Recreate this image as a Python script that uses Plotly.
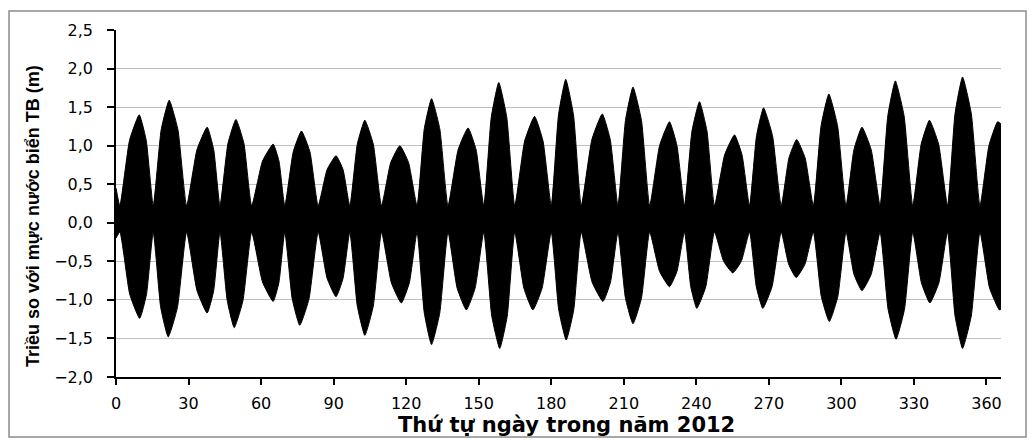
import plotly.graph_objects as go

# Upper envelope of the hourly tide (day of year, metres)
upper_days = [0, 1.6,
              5.6, 9.6, 12.5, 15.4,
              18.7, 22.0, 25.6, 29.2,
              33.5, 37.7, 40.4, 43.0,
              46.3, 49.6, 52.9, 56.1,
              60.6, 65.0, 67.4, 69.8,
              73.3, 76.7, 80.2, 83.6,
              87.3, 91.0, 93.9, 96.7,
              99.8, 102.9, 106.4, 109.8,
              113.6, 117.4, 121.0, 124.5,
              127.5, 130.5, 133.9, 137.3,
              141.5, 145.6, 148.9, 152.1,
              155.2, 158.3, 161.6, 164.9,
              169.0, 173.1, 176.6, 180.0,
              183.0, 186.0, 189.2, 192.4,
              196.8, 201.1, 204.4, 207.6,
              210.7, 213.8, 217.3, 220.7,
              224.8, 228.9, 232.0, 235.1,
              238.2, 241.3, 244.4, 247.5,
              251.7, 255.8, 258.9, 262.0,
              264.9, 267.8, 271.5, 275.1,
              278.3, 281.5, 285.0, 288.4,
              291.6, 294.8, 298.4, 301.9,
              305.2, 308.5, 312.3, 316.0,
              319.2, 322.3, 325.9, 329.5,
              333.0, 336.4, 340.2, 343.9,
              347.0, 350.1, 353.7, 357.3,
              361.0, 364.6, 366.0]
upper_vals = [0.45, 0.22,
              1.07, 1.40, 1.07, 0.22,
              1.21, 1.59, 1.21, 0.22,
              0.95, 1.24, 0.95, 0.22,
              1.03, 1.34, 1.03, 0.22,
              0.80, 1.02, 0.80, 0.22,
              0.92, 1.19, 0.92, 0.22,
              0.69, 0.87, 0.69, 0.22,
              1.02, 1.33, 1.02, 0.22,
              0.78, 1.00, 0.78, 0.22,
              1.22, 1.61, 1.22, 0.22,
              0.95, 1.23, 0.95, 0.22,
              1.37, 1.82, 1.37, 0.22,
              1.06, 1.38, 1.06, 0.22,
              1.40, 1.86, 1.40, 0.22,
              1.08, 1.41, 1.08, 0.22,
              1.33, 1.76, 1.33, 0.22,
              1.00, 1.31, 1.00, 0.22,
              1.19, 1.57, 1.19, 0.22,
              0.88, 1.14, 0.88, 0.22,
              1.13, 1.49, 1.13, 0.22,
              0.84, 1.08, 0.84, 0.22,
              1.26, 1.67, 1.26, 0.22,
              0.95, 1.24, 0.95, 0.22,
              1.39, 1.84, 1.39, 0.22,
              1.02, 1.33, 1.02, 0.22,
              1.42, 1.89, 1.42, 0.22,
              1.00, 1.31, 1.28]

# Lower envelope of the hourly tide (day of year, metres)
lower_days = [0, 1.6,
              5.7, 9.8, 12.6, 15.4,
              18.5, 21.6, 25.4, 29.2,
              33.5, 37.7, 40.4, 43.0,
              46.0, 48.9, 52.5, 56.1,
              60.6, 65.0, 67.4, 69.8,
              72.9, 76.0, 79.8, 83.6,
              87.3, 91.0, 93.9, 96.7,
              99.8, 102.9, 106.4, 109.8,
              113.9, 118.0, 121.3, 124.5,
              127.5, 130.5, 133.9, 137.3,
              141.1, 144.9, 148.5, 152.1,
              155.4, 158.7, 161.8, 164.9,
              168.7, 172.4, 176.2, 180.0,
              183.1, 186.2, 189.3, 192.4,
              196.9, 201.4, 204.5, 207.6,
              210.7, 213.8, 217.3, 220.7,
              224.8, 228.9, 232.0, 235.1,
              237.7, 240.2, 243.9, 247.5,
              251.3, 255.1, 258.6, 262.0,
              264.8, 267.5, 271.3, 275.1,
              278.2, 281.3, 284.9, 288.4,
              291.7, 295.0, 298.5, 301.9,
              305.2, 308.5, 312.3, 316.0,
              319.3, 322.6, 326.1, 329.5,
              333.1, 336.6, 340.3, 343.9,
              347.0, 350.1, 353.7, 357.3,
              361.3, 365.3, 366.0]
lower_vals = [-0.20, -0.12,
              -0.93, -1.24, -0.93, -0.12,
              -1.10, -1.48, -1.10, -0.12,
              -0.88, -1.17, -0.88, -0.12,
              -1.01, -1.36, -1.01, -0.12,
              -0.77, -1.02, -0.77, -0.12,
              -0.99, -1.33, -0.99, -0.12,
              -0.72, -0.96, -0.72, -0.12,
              -1.08, -1.46, -1.08, -0.12,
              -0.78, -1.04, -0.78, -0.12,
              -1.17, -1.58, -1.17, -0.12,
              -0.85, -1.13, -0.85, -0.12,
              -1.21, -1.63, -1.21, -0.12,
              -0.85, -1.13, -0.85, -0.12,
              -1.13, -1.52, -1.13, -0.12,
              -0.77, -1.02, -0.77, -0.12,
              -0.98, -1.31, -0.98, -0.12,
              -0.63, -0.83, -0.63, -0.12,
              -0.83, -1.11, -0.83, -0.12,
              -0.50, -0.65, -0.50, -0.12,
              -0.83, -1.11, -0.83, -0.12,
              -0.54, -0.71, -0.54, -0.12,
              -0.96, -1.28, -0.96, -0.12,
              -0.67, -0.88, -0.67, -0.12,
              -1.12, -1.51, -1.12, -0.12,
              -0.78, -1.04, -0.78, -0.12,
              -1.21, -1.63, -1.21, -0.12,
              -0.85, -1.13, -1.12]

x_ticks = [0, 30, 60, 90, 120, 150, 180, 210, 240, 270, 300, 330, 360]
y_ticks = [-2.0, -1.5, -1.0, -0.5, 0.0, 0.5, 1.0, 1.5, 2.0, 2.5]

x_title = "Thứ tự ngày trong năm 2012"
y_title = "Triều so với mực nước biển TB (m)"

poly_x = upper_days + lower_days[::-1]
poly_y = upper_vals + lower_vals[::-1]

# pixel layout helpers (plot area 116..1001 px horizontally, 30..377 px vertically)
W, H = 1032, 442
ML, MR, MT, MB = 93, 31, 30, 65
pw = W - ML - MR
ph = H - MT - MB
def px_x(p):
    return (p - ML) / pw
def px_y(p):
    return (H - MB - p) / ph

fig = go.Figure()
fig.add_trace(go.Scatter(
    x=poly_x, y=poly_y, mode="lines", fill="toself",
    fillcolor="black", line=dict(color="black", width=1, shape="spline", smoothing=0.45),
    hoverinfo="skip", showlegend=False))
# invisible trace that carries the tick-label axis (labels set apart from the ticks)
fig.add_trace(go.Scatter(x=[None], y=[None], yaxis="y2", showlegend=False, hoverinfo="skip"))

tick_font = dict(family="DejaVu Sans, Verdana, sans-serif", size=16, color="black")

fig.update_layout(
    width=W, height=H, autosize=False,
    margin=dict(l=ML, r=MR, t=MT, b=MB),
    paper_bgcolor="white", plot_bgcolor="white",
    separators=",.",
    showlegend=False,
    xaxis=dict(domain=[px_x(116), 1], range=[0, 366], tickvals=x_ticks,
               showgrid=False, zeroline=False,
               showline=True, linecolor="black", linewidth=2,
               ticks="outside", ticklen=6, tickwidth=1.5, tickcolor="black",
               tickfont=tick_font, ticklabelstandoff=5),
    yaxis=dict(range=[-2.0, 2.5], tickvals=y_ticks, showticklabels=False,
               showgrid=True, gridcolor="#c0c0c0", gridwidth=1, zeroline=False,
               showline=True, linecolor="black", linewidth=2,
               ticks="outside", ticklen=7, tickwidth=1.5, tickcolor="black"),
    yaxis2=dict(range=[-2.0, 2.5], tickvals=y_ticks, tickformat=".1f",
                overlaying="y", anchor="free", position=0, side="left",
                showgrid=False, zeroline=False, showline=False, ticks="",
                tickfont=tick_font),
    annotations=[
        dict(text="<b>" + y_title + "</b>", xref="paper", yref="paper",
             x=px_x(33), y=px_y(216), textangle=-90, showarrow=False,
             xanchor="center", yanchor="middle",
             font=dict(family="Liberation Sans, Arial, sans-serif", size=18, color="black")),
        dict(text="<b>" + x_title + "</b>", xref="paper", yref="paper",
             x=px_x(566), y=px_y(425), showarrow=False, xanchor="center", yanchor="middle",
             font=dict(family="DejaVu Sans, sans-serif", size=21, color="black")),
    ],
    shapes=[
        dict(type="rect", xref="paper", yref="paper",
             x0=px_x(9), x1=px_x(1026), y0=px_y(437), y1=px_y(11),
             line=dict(color="#8c8c8c", width=1.5), fillcolor="rgba(0,0,0,0)", layer="below"),
    ],
)

fig.write_html("out.html")
